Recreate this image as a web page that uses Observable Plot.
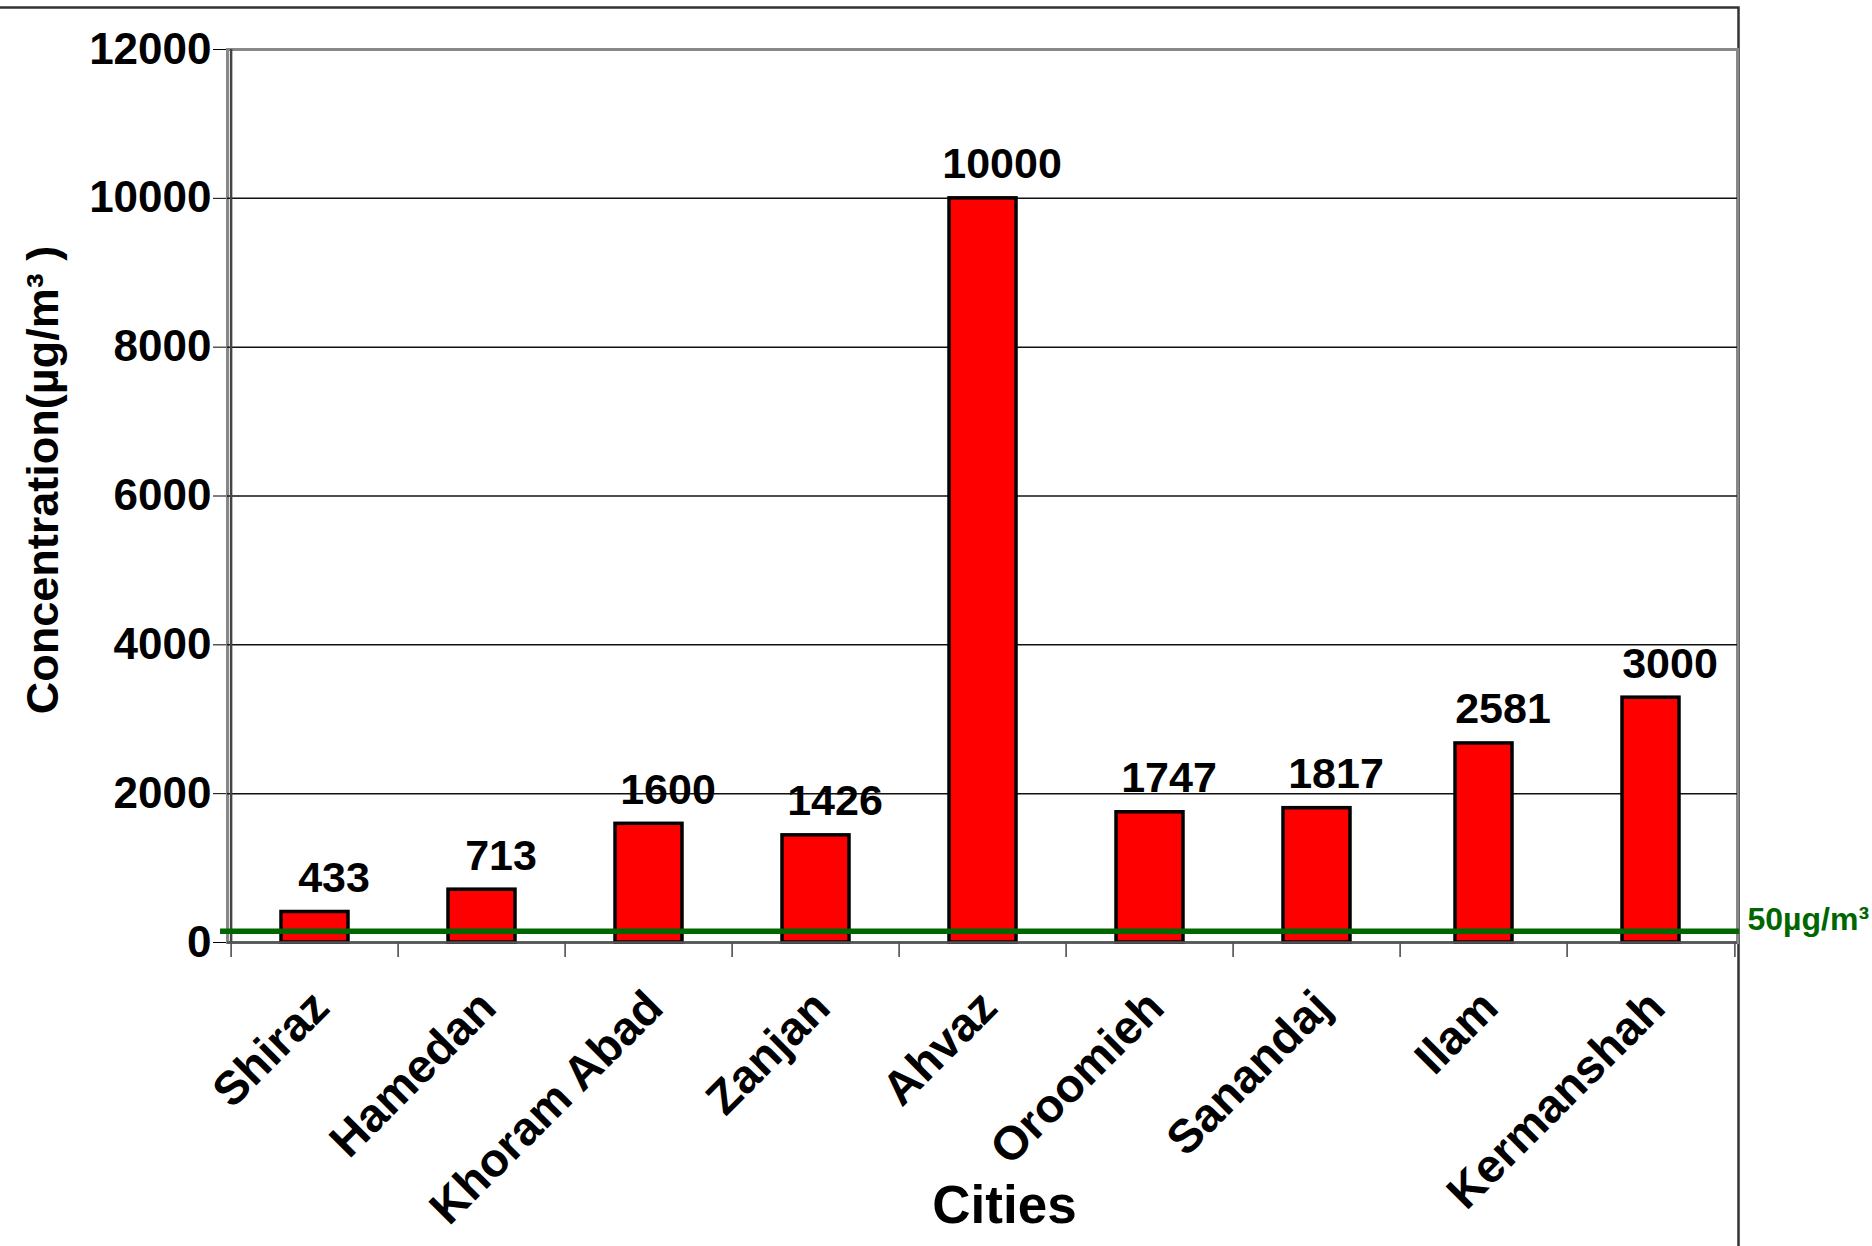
<!DOCTYPE html>
<html>
<head>
<meta charset="utf-8">
<script src="https://cdn.jsdelivr.net/npm/d3@7"></script>
<script src="https://cdn.jsdelivr.net/npm/@observablehq/plot@0.6"></script>
<style>
  html, body { margin: 0; padding: 0; background: #fff; overflow: hidden; }
</style>
</head>
<body>
<div id="chart"></div>
<script>
// Data
const cities = ["Shiraz", "Hamedan", "Khoram Abad", "Zanjan", "Ahvaz", "Oroomieh", "Sanandaj", "Ilam", "Kermanshah"];
const barValues = [410, 710, 1595, 1440, 10000, 1750, 1805, 2675, 3290];
const valueLabels = ["433", "713", "1600", "1426", "10000", "1747", "1817", "2581", "3000"];
const yTicks = [0, 2000, 4000, 6000, 8000, 10000, 12000];
const gridTicks = [2000, 4000, 6000, 8000, 10000];
const limitValue = [150];
const limitLabel = "50µg/m³";
const yTitle = "Concentration(µg/m³ )";
const xTitle = "Cities";

const data = cities.map((c, i) => ({city: c, value: barValues[i], label: valueLabels[i]}));

const W = 1872, H = 1246;
const mL = 227, mR = 135, mT = 49, mB = 304;
const step = (W - mL - mR) / cities.length;
const tickLen = -200; // tick length below baseline, in y units (≈15px)

const chart = Plot.plot({
  width: W,
  height: H,
  marginLeft: mL,
  marginRight: mR,
  marginTop: mT,
  marginBottom: mB,
  style: {fontFamily: "'Liberation Sans', Arial, sans-serif", fontWeight: "bold", fontSize: "44px", color: "#000", background: "#fff"},
  x: {type: "band", domain: cities, padding: 0, axis: null},
  y: {domain: [0, 12000], ticks: yTicks, tickSize: 14, tickPadding: 2, tickFormat: d => String(d), label: null},
  marks: [
    // outer chart-area border
    Plot.frame({stroke: "#333", strokeWidth: 2.5, insetTop: -42, insetLeft: -260, insetBottom: -340, insetRight: -1}),
    // plot area border
    Plot.frame({stroke: "#888", strokeWidth: 3}),
    Plot.ruleY(gridTicks, {stroke: "#111", strokeWidth: 1.5}),
    // y axis line
    Plot.ruleX([cities[0]], {x: d => d, dx: -step / 2, y1: 0, y2: 12000, stroke: "#444", strokeWidth: 2.5}),
    // ticks at category boundaries
    Plot.ruleX(cities, {x: d => d, dx: -step / 2, y1: 0, y2: tickLen, stroke: "#444", strokeWidth: 1.5}),
    Plot.ruleX([cities[cities.length - 1]], {x: d => d, dx: step / 2, y1: 0, y2: tickLen, stroke: "#444", strokeWidth: 1.5}),
    // bars
    Plot.barY(data, {x: "city", y: "value", filter: (d, i) => i < 7,
      insetLeft: 50, insetRight: 50, fill: "#ff0000", stroke: "#000", strokeWidth: 3.5}),
    Plot.barY(data, {x: "city", y: "value", filter: (d, i) => i >= 7,
      insetLeft: 55, insetRight: 55, fill: "#ff0000", stroke: "#000", strokeWidth: 3.5}),
    Plot.ruleY([0], {stroke: "#555", strokeWidth: 2.5}),
    // limit line
    Plot.ruleY(limitValue, {stroke: "#006600", strokeWidth: 5.5, insetLeft: -7, insetRight: -2}),
    Plot.text(limitValue, {y: d => d, frameAnchor: "right", text: () => limitLabel, textAnchor: "start",
      dx: 10, dy: -12, fill: "#006600", fontSize: 32, fontWeight: "bold"}),
    // value labels
    Plot.text(data, {x: "city", y: "value", text: "label", lineAnchor: "bottom", dx: 19, dy: -20,
      fontSize: 43, fontWeight: "bold", fill: "#000"}),
    // category labels
    Plot.text(cities, {x: d => d, frameAnchor: "bottom", text: d => d, rotate: -45, textAnchor: "end",
      lineAnchor: "middle", dx: 6, dy: 57, fontSize: 47, fontWeight: "bold", fill: "#000"}),
    // axis titles
    Plot.text([xTitle], {frameAnchor: "bottom", text: d => d, textAnchor: "middle", lineAnchor: "middle",
      dx: 22, dy: 264, fontSize: 53, fontWeight: "bold", fill: "#000"}),
    Plot.text([yTitle], {frameAnchor: "left", text: d => d, rotate: -90, textAnchor: "middle", lineAnchor: "middle",
      dx: -184, dy: -16, fontSize: 45, fontWeight: "bold", fill: "#000"})
  ]
});
document.getElementById("chart").appendChild(chart);
</script>
</body>
</html>
